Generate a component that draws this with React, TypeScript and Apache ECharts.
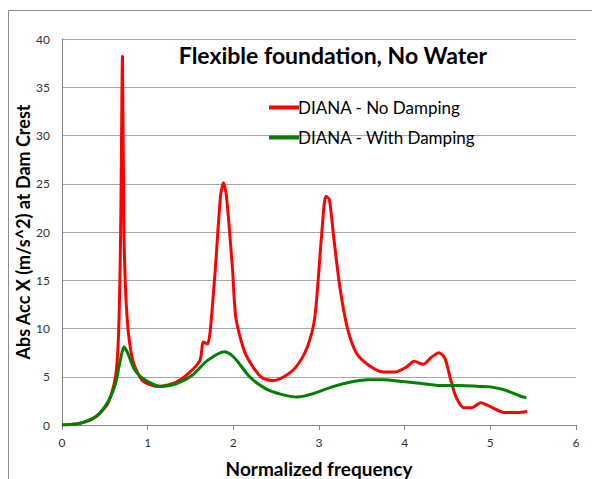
import React, { useEffect, useRef } from "react";
import * as echarts from "echarts";

const titleText = "Flexible foundation, No Water";
const xAxisName = "Normalized frequency";
const yAxisName = "Abs Acc X (m/s^2) at Dam Crest";
const seriesNames = ["DIANA - No Damping", "DIANA - With Damping"];

const redX = [0, 0.2, 0.4, 0.536, 0.625, 0.66, 0.684, 0.706, 0.724, 0.76, 0.826, 0.94, 1.12, 1.3, 1.47, 1.61, 1.65, 1.7, 1.73, 1.79, 1.85, 1.885, 1.92, 1.99, 2.03, 2.14, 2.32, 2.46, 2.59, 2.73, 2.86, 2.95, 3.03, 3.08, 3.12, 3.17, 3.24, 3.33, 3.44, 3.58, 3.75, 3.89, 4.02, 4.11, 4.22, 4.31, 4.4, 4.47, 4.54, 4.6, 4.69, 4.78, 4.89, 5.0, 5.16, 5.32, 5.43];
const redY = [0, 0.15, 0.89, 2.25, 5.0, 9.4, 19.6, 38.2, 19.6, 11.1, 6.7, 4.6, 4.0, 4.3, 5.3, 6.7, 8.6, 8.4, 9.75, 16.2, 23.7, 25.1, 23.7, 16.2, 11.1, 7.4, 5.0, 4.6, 5.0, 6.0, 8.0, 11.1, 19.6, 23.7, 23.4, 19.6, 14.5, 10.1, 7.4, 6.2, 5.5, 5.5, 6.0, 6.6, 6.3, 7.0, 7.5, 6.9, 4.6, 2.9, 1.8, 1.8, 2.3, 1.9, 1.3, 1.3, 1.4];

const greenX = [0, 0.2, 0.4, 0.536, 0.625, 0.68, 0.724, 0.77, 0.85, 0.98, 1.16, 1.34, 1.52, 1.7, 1.9, 2.01, 2.19, 2.37, 2.55, 2.75, 2.95, 3.17, 3.4, 3.57, 3.75, 3.98, 4.2, 4.42, 4.65, 4.87, 5.0, 5.18, 5.36, 5.42];
const greenY = [0, 0.15, 0.9, 2.4, 4.3, 6.7, 8.1, 7.4, 5.7, 4.6, 4.0, 4.3, 5.15, 6.7, 7.6, 7.0, 5.0, 3.8, 3.2, 2.9, 3.3, 4.0, 4.5, 4.7, 4.7, 4.5, 4.3, 4.1, 4.1, 4.0, 3.95, 3.6, 2.95, 2.85];

const xTicks = [0, 1, 2, 3, 4, 5, 6];
const yTicks = [0, 5, 10, 15, 20, 25, 30, 35, 40];

const FONT = "Lato, 'Open Sans', sans-serif";

export default function App() {
  const ref = useRef<HTMLDivElement>(null);
  useEffect(() => {
    if (!ref.current) return;
    const chart = echarts.init(ref.current, undefined, { renderer: "svg" });
    const redData = redX.map((x, i) => [x, redY[i]]);
    const greenData = greenX.map((x, i) => [x, greenY[i]]);
    chart.setOption({
      animation: false,
      backgroundColor: "#fff",
      textStyle: { fontFamily: FONT },
      grid: { left: 54, right: 24, top: 31, bottom: 54, containLabel: false, outerBoundsMode: "none" },
      graphic: [
        {
          type: "rect",
          shape: { x: 0.5, y: 2.5, width: 700, height: 600 },
          style: { fill: "none", stroke: "#8c8c8c", lineWidth: 1 },
          silent: true,
        },
        {
          type: "text",
          x: 325,
          y: 47,
          style: {
            text: titleText,
            align: "center",
            verticalAlign: "middle",
            font: `bold 23px ${FONT}`,
            fill: "#000",
          },
        },
      ],
      legend: {
        data: seriesNames,
        orient: "vertical",
        left: 256,
        top: 86,
        itemWidth: 30,
        itemHeight: 4,
        itemGap: 13,
        icon: "rect",
        textStyle: { fontSize: 17, color: "#000", fontFamily: FONT, padding: [0, 0, 0, -6] },
      },
      xAxis: {
        type: "value",
        min: xTicks[0],
        max: xTicks[xTicks.length - 1],
        interval: 1,
        name: xAxisName,
        nameLocation: "middle",
        nameGap: 34,
        nameMoveOverlap: false,
        nameTextStyle: { fontSize: 19, fontWeight: "bold", color: "#000", fontFamily: FONT },
        axisLine: { show: true, lineStyle: { color: "#868686", width: 1 } },
        axisTick: { show: true, length: 5, inside: false, lineStyle: { color: "#868686" } },
        axisLabel: { fontSize: 12, color: "#333", margin: 11, fontFamily: FONT },
        splitLine: { show: false },
      },
      yAxis: {
        type: "value",
        min: yTicks[0],
        max: yTicks[yTicks.length - 1],
        interval: 5,
        name: yAxisName,
        nameLocation: "middle",
        nameGap: 30,
        nameMoveOverlap: false,
        nameTextStyle: { fontSize: 18, fontWeight: "bold", color: "#000", fontFamily: FONT },
        axisLine: { show: true, lineStyle: { color: "#868686", width: 1 } },
        axisTick: { show: false },
        axisLabel: { fontSize: 12, color: "#333", margin: 12, fontFamily: FONT },
        splitLine: { show: true, lineStyle: { color: "#a6a6a6", width: 1 } },
      },
      series: [
        {
          name: seriesNames[0],
          type: "line",
          data: redData,
          showSymbol: false,
          symbol: "none",
          smooth: 0.25,
          lineStyle: { color: "#ff0000", width: 3 },
          itemStyle: { color: "#ff0000" },
          z: 2,
        },
        {
          name: seriesNames[1],
          type: "line",
          data: greenData,
          showSymbol: false,
          symbol: "none",
          smooth: 0.25,
          lineStyle: { color: "#008000", width: 3 },
          itemStyle: { color: "#008000" },
          z: 3,
        },
      ],
    });
    return () => chart.dispose();
  }, []);
  return <div ref={ref} style={{ width: 592, height: 471 }} />;
}
